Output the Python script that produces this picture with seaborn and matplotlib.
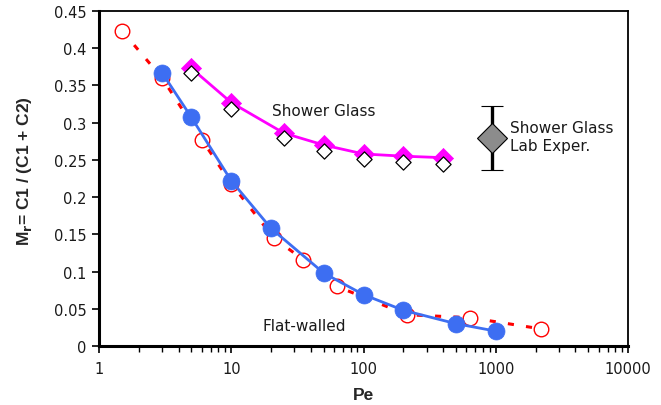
import matplotlib
matplotlib.use("Agg")
import matplotlib.pyplot as plt
import seaborn as sns
import pandas as pd
import numpy as np

# Flat-walled simulation (blue filled circles)
flat_pe = [3, 5, 10, 20, 50, 100, 200, 500, 1000]
flat_mr = [0.367, 0.307, 0.222, 0.158, 0.098, 0.069, 0.048, 0.030, 0.020]

# Flat-walled second set (red open circles, dotted line)
red_pe = [1.5, 3, 6, 10, 21, 35, 63, 214, 640, 2200]
red_mr = [0.423, 0.360, 0.277, 0.218, 0.145, 0.116, 0.080, 0.042, 0.038, 0.023]

# Shower Glass simulation (magenta diamonds)
sg_pe = [5, 10, 25, 50, 100, 200, 400]
sg_mr = [0.373, 0.327, 0.286, 0.270, 0.258, 0.255, 0.253]

# Shower Glass second set (white diamonds)
sg2_mr = [0.367, 0.319, 0.279, 0.262, 0.251, 0.247, 0.245]

# Shower Glass lab experiment
lab_pe = [930]
lab_mr = [0.280]
lab_err = [0.043]

y_ticks = [0, 0.05, 0.1, 0.15, 0.2, 0.25, 0.3, 0.35, 0.4, 0.45]
y_labels = ["0", "0.05", "0.1", "0.15", "0.2", "0.25", "0.3", "0.35", "0.4", "0.45"]
x_ticks = [1, 10, 100, 1000, 10000]
x_labels = ["1", "10", "100", "1000", "10000"]

sns.set_theme(style="white")
plt.rcParams['font.family'] = ['DejaVu Sans']

fig = plt.figure(figsize=(6.61, 4.06), dpi=100)
ax = fig.add_axes([0.1498, 0.1453, 0.8003, 0.8251])

df_flat = pd.DataFrame({"Pe": flat_pe, "Mr": flat_mr})
df_red = pd.DataFrame({"Pe": red_pe, "Mr": red_mr})
df_sg = pd.DataFrame({"Pe": sg_pe, "Mr": sg_mr})
df_sg2 = pd.DataFrame({"Pe": sg_pe, "Mr": sg2_mr})

# red dotted line + open circles
sns.lineplot(data=df_red, x="Pe", y="Mr", ax=ax, color="#FF0000", lw=2.2,
             linestyle=(0, (2, 4)), zorder=2)
sns.scatterplot(data=df_red, x="Pe", y="Mr", ax=ax, s=110, marker="o",
                facecolor="white", edgecolor="#FF0000", linewidth=1.0, zorder=3)

# blue line + filled circles
sns.lineplot(data=df_flat, x="Pe", y="Mr", ax=ax, color="#3D6EF2", lw=2.0, zorder=4)
sns.scatterplot(data=df_flat, x="Pe", y="Mr", ax=ax, s=150, marker="o",
                color="#3D6EF2", edgecolor="#3D6EF2", linewidth=0.5, zorder=5)

# magenta line + diamonds
sns.lineplot(data=df_sg, x="Pe", y="Mr", ax=ax, color="#FF00FF", lw=2.0, zorder=4)
sns.scatterplot(data=df_sg, x="Pe", y="Mr", ax=ax, s=105, marker="D",
                color="#FF00FF", edgecolor="#FF00FF", linewidth=0.5, zorder=5)
sns.scatterplot(data=df_sg2, x="Pe", y="Mr", ax=ax, s=60, marker="D",
                facecolor="white", edgecolor="black", linewidth=0.9, zorder=6)

# lab experiment
ax.errorbar(lab_pe, lab_mr, yerr=lab_err, fmt="D", ms=15, mfc="#8C8C8C", mec="black",
            mew=0.8, ecolor="black", elinewidth=2.4, capsize=8, capthick=2.4, zorder=6)

ax.set_xscale("log")
ax.set_xlim(1, 10000)
ax.set_ylim(0, 0.45)
ax.set_xticks(x_ticks)
ax.set_xticklabels(x_labels)
ax.set_yticks(y_ticks)
ax.set_yticklabels(y_labels)
ax.xaxis.set_minor_locator(matplotlib.ticker.LogLocator(base=10, subs=np.arange(2, 10)))
ax.xaxis.set_minor_formatter(matplotlib.ticker.NullFormatter())
ax.tick_params(axis="both", which="major", direction="out", length=5, width=1.2,
               labelsize=10.5, color="black", labelcolor="#1a1a1a", bottom=True, left=True)
ax.tick_params(axis="x", which="minor", direction="out", length=4.5, width=1.0,
               color="black", bottom=True)
ax.tick_params(axis="x", pad=6)
ax.tick_params(axis="y", pad=4)

for s in ax.spines.values():
    s.set_visible(True)
    s.set_color("black")
ax.spines["left"].set_linewidth(2.2)
ax.spines["bottom"].set_linewidth(2.2)
ax.spines["top"].set_linewidth(1.3)
ax.spines["right"].set_linewidth(1.3)

ax.set_xlabel("Pe", fontsize=12.5, fontweight="bold", family="Liberation Sans", va="center")
ax.xaxis.set_label_coords(0.5, -0.146)
ax.set_ylabel(r"M$_\mathbf{r}$= C1 / (C1 + C2)", fontsize=12.5, fontweight="bold",
              family="Liberation Sans", va="center")
ax.yaxis.set_label_coords(-0.140, 0.525)

ax.text(50, 0.317, "Shower Glass", fontsize=11, ha="center", va="center", color="#1a1a1a")
ax.text(35.5, 0.027, "Flat-walled", fontsize=11, ha="center", va="center", color="#1a1a1a")
ax.text(1282, 0.2814, "Shower Glass\nLab Exper.", fontsize=11, ha="left", va="center",
        color="#1a1a1a", linespacing=1.25)

ax.grid(False)
fig.savefig("out.png", dpi=100)
